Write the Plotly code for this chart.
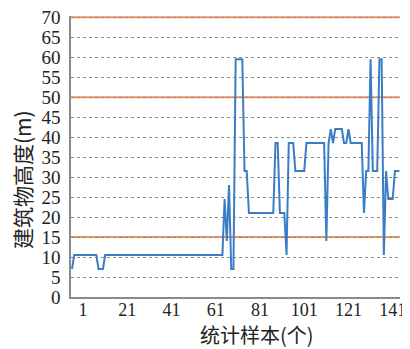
import plotly.graph_objects as go

# Building height (m) per statistical sample
heights = (
    [7.0]
    + [10.5] * 11
    + [7.0] * 3
    + [10.5] * 54
    + [24.5, 14.0, 28.0]
    + [7.0] * 2
    + [59.5] * 4
    + [31.5] * 2
    + [21.0] * 12
    + [38.5] * 2
    + [21.0] * 3
    + [10.5]
    + [38.5] * 3
    + [31.5] * 5
    + [38.5] * 9
    + [14.0, 38.5, 42.0, 38.5]
    + [42.0] * 4
    + [38.5] * 2
    + [42.0]
    + [38.5] * 6
    + [21.0]
    + [31.5] * 2
    + [59.5]
    + [31.5] * 3
    + [59.5] * 2
    + [10.5, 31.5]
    + [24.5] * 3
    + [31.5] * 3
)
sample_idx = list(range(1, len(heights) + 1))

x_tick_labels = ["1", "21", "41", "61", "81", "101", "121", "141"]
x_tick_pos = [6, 26, 46, 66, 86, 106, 126, 146]
y_ticks = list(range(0, 75, 5))
threshold_levels = [15, 50, 70]

x_title = "统计样本(个)"
y_title = "建筑物高度(m)"

# page body has an 8px default margin: compensate
OFF = 8
W, H = 410 - OFF, 349 - OFF
ML, MR, MT, MB = 71 - OFF, 10, 8, 52
PW, PH = W - ML - MR, H - MT - MB

fig = go.Figure()

for lv in threshold_levels:
    fig.add_shape(type="line", xref="paper", x0=0, x1=1, yref="y", y0=lv, y1=lv,
                  line=dict(color="#f0925f", width=2), layer="between")

fig.add_trace(go.Scatter(
    x=sample_idx, y=heights, mode="lines",
    line=dict(color="#3b7cc6", width=2),
    showlegend=False,
))

# axis titles as annotations (pixel-exact placement, window coords minus offset)
fig.add_annotation(text=x_title, xref="paper", yref="paper",
                   x=(257 - OFF - ML) / PW, y=-(334.5 - OFF - (MT + PH)) / PH,
                   showarrow=False, xanchor="center", yanchor="middle",
                   font=dict(size=20, family="Noto Sans CJK SC", color="#222"))
fig.add_annotation(text=y_title, xref="paper", yref="paper",
                   x=-(ML - (22 - OFF)) / PW, y=1 - (180 - OFF - MT) / PH, textangle=-90,
                   showarrow=False, xanchor="center", yanchor="middle",
                   font=dict(size=21, family="Noto Sans CJK SC", color="#222"))

fig.update_layout(
    width=W, height=H,
    margin=dict(l=ML, r=MR, t=MT, b=MB, autoexpand=False),
    paper_bgcolor="white", plot_bgcolor="white",
    font=dict(family="Liberation Serif, Times New Roman, serif", color="#222"),
    xaxis=dict(
        range=[0.55, 149.3], automargin=False,
        tickmode="array", tickvals=x_tick_pos, ticktext=x_tick_labels,
        tickfont=dict(size=18, family="Liberation Serif"),
        showgrid=False, zeroline=False,
        showline=True, linecolor="#8a8a8a", linewidth=1.5,
        ticks="", ticklabelstandoff=-4, ticklabeloverflow="allow",
    ),
    yaxis=dict(
        range=[0, 70.3], automargin=False,
        tickmode="array", tickvals=y_ticks,
        tickfont=dict(size=19, family="Liberation Serif"),
        showgrid=True, gridcolor="#8c8c8c", griddash="dot", gridwidth=1,
        zeroline=False,
        showline=True, linecolor="#8a8a8a", linewidth=1.5,
        ticks="", ticklabelstandoff=5, ticklabeloverflow="allow",
    ),
)

fig.write_html("out.html")
